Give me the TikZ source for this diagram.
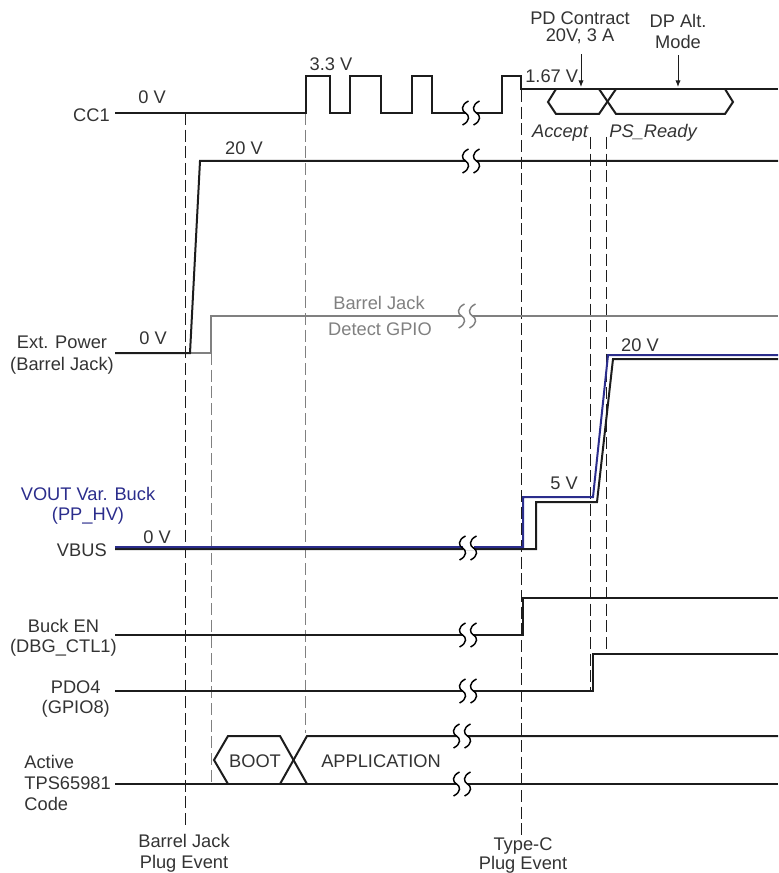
\documentclass[tikz,border=0pt]{standalone}
\usepackage{fontspec}
\setmainfont{Liberation Sans}
\usetikzlibrary{arrows.meta}
\definecolor{txt}{RGB}{51,51,51}
\definecolor{wire}{RGB}{28,28,28}
\definecolor{gpio}{RGB}{128,128,128}
\definecolor{buck}{RGB}{43,45,140}

\begin{document}
\begin{tikzpicture}[
  x=0.75pt, y=-0.75pt,
  lbl/.style={inner sep=0pt, text=txt, font=\fontsize{13.7}{16}\selectfont},
  sig/.style={draw=wire, line width=1.5pt, line join=miter},
  evt/.style={draw=wire, line width=0.75pt, dash pattern=on 9pt off 3.5pt},
  lit/.style={evt, draw=gpio},
  arr/.style={-{Latex[length=5pt,width=4pt]}, line width=0.75pt, draw=wire},
  brk/.pic={
    \fill[white] (-5.5,-2) rectangle (5.5,2);
    \draw[line width=1.1pt] (-2.5,-12) .. controls (-10.5,-8) and (-9.5,-2) .. (-5.5,0) .. controls (-1.5,2) and (-0.5,8) .. (-8.5,12);
    \draw[line width=1.1pt] (8.5,-12) .. controls (0.5,-8) and (1.5,-2) .. (5.5,0) .. controls (9.5,2) and (10.5,8) .. (2.5,12);
  }
]
\useasboundingbox (0,0) rectangle (778,873);

\draw[evt] (185,113) -- (185,826);
\draw[lit] (211,353) -- (211,786);
\draw[lit] (305,113) -- (305,733);
\draw[evt] (521,90) -- (521,835);
\draw[evt] (590,137) -- (590,690);
\draw[evt] (606,137) -- (606,652);

\node[lbl, anchor=east] (cc1) at (110,115) {CC1};
\node[lbl] (cc1lo) at (152,97) {0 V};
\node[lbl] (cc1hi) at (331,64) {3.3 V};
\node[lbl, anchor=west] (cc1pd) at (525,76) {1.67 V};
\node[lbl, align=center, font=\fontsize{13.7}{12.75}\selectfont] (pdc) at (580,28) {PD Contract\\20V, 3 A};
\node[lbl, align=center, font=\fontsize{13.7}{15.75}\selectfont] (dpalt) at (678,31) {DP Alt.\\Mode};
\node[lbl, font=\fontsize{13.7}{16}\selectfont\itshape] (acc) at (560,133) {Accept};
\node[lbl, font=\fontsize{13.7}{16}\selectfont\itshape] (psr) at (653,133) {PS\_Ready};
\coordinate (pdtip) at (581,87);
\coordinate (dptip) at (678,87);
\draw[arr] (pdtip |- pdc.south) ++(0,10) -- (pdtip);
\draw[arr] (dptip |- dpalt.south) ++(0,7) -- (dptip);

\draw[sig] (115,113) -- (306,113) -- (306,76) -- (330,76) -- (330,113) -- (350,113) -- (350,76) -- (381,76)
  -- (381,113) -- (412,113) -- (412,76) -- (432,76) -- (432,113) -- (502,113) -- (502,76) -- (521,76)
  -- (521,89) -- (778,89);
\draw[sig] (556,89) -- (548,102) -- (556,114) -- (599,114) -- (616,89);
\draw[sig] (599,89) -- (616,114) -- (725,114) -- (733,102) -- (725,89);
\pic at (471,113) {brk};

\node[lbl, align=center, font=\fontsize{13.7}{16.5}\selectfont] (ext) at (62,355) {Ext. Power\\(Barrel Jack)};
\node[lbl] (ext20) at (244,148) {20 V};
\node[lbl] (ext0) at (153,338) {0 V};
\node[lbl, text=gpio] (bjd1) at (379,303) {Barrel Jack};
\node[lbl, text=gpio] (bjd2) at (380,329) {Detect GPIO};
\draw[sig, draw=gpio] (190,353) -- (211,353) -- (211,316) -- (778,316);
\draw[sig] (115,353) -- (190,353) -- (200,161) -- (778,161);
\pic at (471,161) {brk};
\pic[color=gpio] at (467,316) {brk};

\node[lbl, text=buck, align=center, font=\fontsize{13.7}{15}\selectfont] (vout) at (88,506) {VOUT Var. Buck\\(PP\_HV)};
\node[lbl, anchor=east] (vbus) at (107,550) {VBUS};
\node[lbl] (vb0) at (157,537) {0 V};
\node[lbl] (vb5) at (564,483) {5 V};
\node[lbl] (vb20) at (640,345) {20 V};
\draw[sig] (115,549) -- (536,549) -- (536,502) -- (597,502) -- (613,359) -- (778,359);
\draw[sig, draw=buck] (115,547) -- (523,547) -- (523,497) -- (593,497) -- (608,355) -- (778,355);
\pic at (468,548) {brk};

\node[lbl, align=center, anchor=east, font=\fontsize{13.7}{15}\selectfont] (bucken) at (117,638) {Buck EN\\(DBG\_CTL1)};
\draw[sig] (115,635) -- (523,635) -- (523,598) -- (778,598);
\pic at (468,635) {brk};

\node[lbl, align=center, anchor=east, font=\fontsize{13.7}{15}\selectfont] (pdo) at (110,699) {PDO4\\(GPIO8)};
\draw[sig] (115,691) -- (593,691) -- (593,654) -- (778,654);
\pic at (468,691) {brk};

\node[lbl, align=left, anchor=east, font=\fontsize{13.7}{15.75}\selectfont] (code) at (111,783) {Active\\TPS65981\\Code};
\node[lbl] (boot) at (255,761) {BOOT};
\node[lbl] (app) at (381,761) {APPLICATION};
\draw[sig] (115,784) -- (778,784);
\draw[sig] (228,784) -- (214,760) -- (228,736) -- (280,736) -- (307,784);
\draw[sig] (280,784) -- (307,736) -- (778,736);
\pic at (462,736) {brk};
\pic at (462,784) {brk};

\node[lbl, align=center, font=\fontsize{13.7}{15.75}\selectfont] (bjev) at (184,853) {Barrel Jack\\Plug Event};
\node[lbl, align=center, font=\fontsize{13.7}{14.25}\selectfont] (tcev) at (523,856) {Type-C\\Plug Event};
\end{tikzpicture}
\end{document}
